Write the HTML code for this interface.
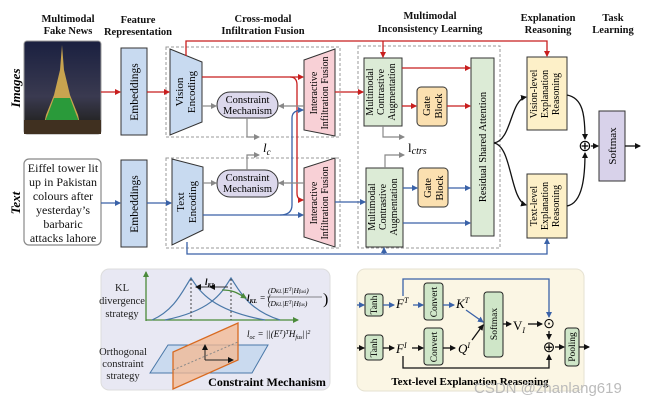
<!DOCTYPE html>
<html><head><meta charset="utf-8"><style>
html,body{margin:0;padding:0;background:#fff;}
svg{display:block;font-family:"Liberation Serif",serif;}
</style></head><body>
<svg width="655" height="406" viewBox="0 0 655 406" xmlns="http://www.w3.org/2000/svg">
<defs>
<marker id="ar" markerWidth="6" markerHeight="6" refX="5" refY="3" orient="auto" markerUnits="userSpaceOnUse"><path d="M0,0 L6,3 L0,6 z" fill="#c81e1e"/></marker>
<marker id="ab" markerWidth="6" markerHeight="6" refX="5" refY="3" orient="auto" markerUnits="userSpaceOnUse"><path d="M0,0 L6,3 L0,6 z" fill="#3a62a8"/></marker>
<marker id="ag" markerWidth="6" markerHeight="6" refX="5" refY="3" orient="auto" markerUnits="userSpaceOnUse"><path d="M0,0 L6,3 L0,6 z" fill="#888"/></marker>
<marker id="ak" markerWidth="6" markerHeight="6" refX="5" refY="3" orient="auto" markerUnits="userSpaceOnUse"><path d="M0,0 L6,3 L0,6 z" fill="#111"/></marker>
<marker id="agr" markerWidth="6" markerHeight="6" refX="5" refY="3" orient="auto" markerUnits="userSpaceOnUse"><path d="M0,0 L6,3 L0,6 z" fill="#4a8a3a"/></marker>
<linearGradient id="sky" x1="0" y1="0" x2="0" y2="1"><stop offset="0" stop-color="#1a2040"/><stop offset="0.6" stop-color="#3a3a50"/><stop offset="1" stop-color="#1a1a10"/></linearGradient>
</defs>

<g font-weight="bold" font-size="10.5" text-anchor="middle" fill="#111">
<text x="68" y="22">Multimodal</text><text x="68" y="34">Fake News</text>
<text x="138" y="23">Feature</text><text x="138" y="35">Representation</text>
<text x="263" y="22">Cross-modal</text><text x="263" y="34">Infiltration Fusion</text>
<text x="430" y="19">Multimodal</text><text x="430" y="32">Inconsistency Learning</text>
<text x="548" y="21">Explanation</text><text x="548" y="33">Reasoning</text>
<text x="613" y="21">Task</text><text x="613" y="33">Learning</text>
</g>
<text transform="translate(20,88) rotate(-90)" text-anchor="middle" font-weight="bold" font-style="italic" font-size="13">Images</text>
<text transform="translate(20,203) rotate(-90)" text-anchor="middle" font-weight="bold" font-style="italic" font-size="13">Text</text>

<rect x="24" y="41" width="77" height="93" rx="3" fill="url(#sky)" stroke="#999"/>
<path d="M62,45 L60,70 L54,95 L46,115 L44,124 L80,124 L78,115 L70,95 L64,70 z" fill="#d8b050" opacity="0.9"/>
<path d="M54,98 L70,98 L76,114 L80,124 L44,124 L48,114 z" fill="#2a9a3a"/>
<rect x="24" y="120" width="77" height="14" fill="#403020"/>

<rect x="24" y="159" width="77" height="86" rx="5" fill="#fff" stroke="#888" stroke-width="1.2"/>
<g font-size="12" text-anchor="middle" fill="#111">
<text x="63" y="172">Eiffel tower lit</text><text x="63" y="186">up in Pakistan</text>
<text x="63" y="200">colours after</text><text x="63" y="214">yesterday’s</text>
<text x="63" y="228">barbaric</text><text x="63" y="242">attacks lahore</text>
</g>

<rect x="121" y="48" width="26" height="87" fill="#c8daf0" stroke="#333"/>
<rect x="121" y="160" width="26" height="87" fill="#c8daf0" stroke="#333"/>
<text transform="translate(138,92) rotate(-90)" text-anchor="middle" font-size="11.5">Embeddings</text>
<text transform="translate(138,204) rotate(-90)" text-anchor="middle" font-size="11.5">Embeddings</text>

<g fill="none" stroke="#999" stroke-dasharray="3,2">
<rect x="166" y="47" width="174" height="90"/>
<rect x="166" y="158" width="174" height="90"/>
<rect x="358" y="46" width="142" height="202"/>
</g>

<path d="M170,49 L202,62 L202,122 L170,135 z" fill="#c8daf0" stroke="#333"/>
<path d="M172,159 L203,167 L203,230 L172,245 z" fill="#c8daf0" stroke="#333"/>
<g font-size="11" text-anchor="middle">
<text transform="translate(183,92) rotate(-90)">Vision</text><text transform="translate(195,92) rotate(-90)">Encoding</text>
<text transform="translate(184,202) rotate(-90)">Text</text><text transform="translate(196,202) rotate(-90)">Encoding</text>
</g>

<rect x="217" y="92" width="61" height="26" rx="13" fill="#dcd8ec" stroke="#333"/>
<rect x="217" y="170" width="61" height="27" rx="13" fill="#dcd8ec" stroke="#333"/>
<g font-size="10.5" text-anchor="middle">
<text x="247.5" y="103">Constraint</text><text x="247.5" y="114">Mechanism</text>
<text x="247.5" y="181">Constraint</text><text x="247.5" y="192">Mechanism</text>
</g>

<path d="M304,60 L335,49 L335,136 L304,130 z" fill="#f8d0d6" stroke="#333"/>
<path d="M304,168 L335,158 L335,247 L304,237 z" fill="#f8d0d6" stroke="#333"/>
<g font-size="10" text-anchor="middle">
<text transform="translate(317,93) rotate(-90)">Interactive</text><text transform="translate(328,93) rotate(-90)">Infiltration Fusion</text>
<text transform="translate(317,203) rotate(-90)">Interactive</text><text transform="translate(328,203) rotate(-90)">Infiltration Fusion</text>
</g>

<rect x="364" y="58" width="38" height="68" fill="#dcebd6" stroke="#333"/>
<rect x="366" y="168" width="37" height="79" fill="#dcebd6" stroke="#333"/>
<g font-size="10" text-anchor="middle">
<text transform="translate(373,92) rotate(-90)">Multimodal</text><text transform="translate(384,92) rotate(-90)">Contrastive</text><text transform="translate(395,92) rotate(-90)">Augmentation</text>
<text transform="translate(375,207) rotate(-90)">Multimodal</text><text transform="translate(386,207) rotate(-90)">Contrastive</text><text transform="translate(397,207) rotate(-90)">Augmentation</text>
</g>
<rect x="417" y="87" width="30" height="39" rx="4" fill="#fbe0b0" stroke="#333"/>
<rect x="418" y="168" width="30" height="39" rx="4" fill="#fbe0b0" stroke="#333"/>
<g font-size="10.5" text-anchor="middle">
<text transform="translate(430,106) rotate(-90)">Gate</text><text transform="translate(442,106) rotate(-90)">Block</text>
<text transform="translate(431,188) rotate(-90)">Gate</text><text transform="translate(443,188) rotate(-90)">Block</text>
</g>
<rect x="471" y="58" width="23" height="178" fill="#dcebd6" stroke="#333"/>
<text transform="translate(486,147) rotate(-90)" text-anchor="middle" font-size="10.5">Residual Shared Attention</text>

<rect x="527" y="57" width="40" height="73" fill="#fdf0c8" stroke="#333"/>
<rect x="527" y="174" width="40" height="64" fill="#fdf0c8" stroke="#333"/>
<g font-size="10" text-anchor="middle">
<text transform="translate(537,94) rotate(-90)">Vision-level</text><text transform="translate(548,94) rotate(-90)">Explanation</text><text transform="translate(559,94) rotate(-90)">Reasoning</text>
<text transform="translate(537,206) rotate(-90)">Text-level</text><text transform="translate(548,206) rotate(-90)">Explanation</text><text transform="translate(559,206) rotate(-90)">Reasoning</text>
</g>
<rect x="599" y="111" width="26" height="70" fill="#d8d2ea" stroke="#333"/>
<text transform="translate(616,146) rotate(-90)" text-anchor="middle" font-size="11">Softmax</text>
<text x="585" y="151" text-anchor="middle" font-size="16">⊕</text>

<g fill="none" stroke="#c81e1e" stroke-width="1.3">
<path d="M101,92 H120" marker-end="url(#ar)"/>
<path d="M147,92 H169" marker-end="url(#ar)"/>
<path d="M186,56 V41 H547 V56" marker-end="url(#ar)"/>
<path d="M383,41 V57" marker-end="url(#ar)"/>
<path d="M202,77 H303" marker-end="url(#ar)"/>
<path d="M290,77 Q297,77 297,85 V193 Q297,200 303,200" marker-end="url(#ar)"/>
<path d="M335,92 H363" marker-end="url(#ar)"/>
<path d="M402,68 H470" marker-end="url(#ar)"/>
<path d="M402,106 H416" marker-end="url(#ar)"/>
<path d="M447,106 H470" marker-end="url(#ar)"/>
</g>
<g fill="none" stroke="#3a62a8" stroke-width="1.3">
<path d="M101,203 H120" marker-end="url(#ab)"/>
<path d="M147,203 H171" marker-end="url(#ab)"/>
<path d="M203,215 H303" marker-end="url(#ab)"/>
<path d="M280,215 Q292,215 292,205 V118 Q292,110 303,110" marker-end="url(#ab)"/>
<path d="M335,202 H365" marker-end="url(#ab)"/>
<path d="M187,242 V254 H547 V239" marker-end="url(#ab)"/>
<path d="M384,254 V248" marker-end="url(#ab)"/>
<path d="M403,188 H417" marker-end="url(#ab)"/>
<path d="M448,188 H470" marker-end="url(#ab)"/>
<path d="M403,223 H470" marker-end="url(#ab)"/>
</g>
<g fill="none" stroke="#888" stroke-width="1.2">
<path d="M202,106 H216" marker-end="url(#ag)"/>
<path d="M203,183 H216" marker-end="url(#ag)"/>
<path d="M304,106 H279" marker-end="url(#ag)"/>
<path d="M304,183 H279" marker-end="url(#ag)"/>
<path d="M247,118 V137 H259" marker-end="url(#ag)"/>
<path d="M247,170 V155 H259" marker-end="url(#ag)"/>
<path d="M383,126 V137 H404" marker-end="url(#ag)"/>
<path d="M385,168 V155 H404" marker-end="url(#ag)"/>
</g>
<text x="263" y="152" font-style="italic" font-size="13">l<tspan font-size="9" dy="3">c</tspan></text>
<text x="408" y="152" font-size="13">l<tspan font-style="italic" font-size="10" dy="2">ctrs</tspan></text>
<g fill="none" stroke="#111" stroke-width="1.3">
<path d="M494,143 C512,140 510,100 526,97" marker-end="url(#ak)"/>
<path d="M494,143 C512,146 510,200 526,205" marker-end="url(#ak)"/>
<path d="M567,95 C583,98 585,115 585,139" marker-end="url(#ak)"/>
<path d="M567,206 C583,203 585,175 585,153" marker-end="url(#ak)"/>
<path d="M591,146 H598" marker-end="url(#ak)"/>
<path d="M625,146 H640" marker-end="url(#ak)"/>
</g>

<rect x="101" y="269" width="229" height="121" rx="8" fill="#e8e8f3" stroke="#ddd"/>
<g fill="none" stroke="#4a8a3a" stroke-width="1.3">
<path d="M146,321 V272" marker-end="url(#agr)"/>
<path d="M146,320 H298" marker-end="url(#agr)"/>
</g>
<g fill="none" stroke="#4a78a8" stroke-width="1.2">
<path d="M152,320 C175,310 183,290 191,278 C199,290 210,310 265,320"/>
<path d="M165,320 C215,310 223,290 231,278 C239,290 248,310 280,320"/>
</g>
<g stroke="#444" stroke-dasharray="2,2"><path d="M191,279 V320"/><path d="M231,279 V320"/></g>
<path d="M228,287 L210,287" stroke="#333" marker-end="url(#ak)"/>
<path d="M210,287 L196,287" stroke="#333" marker-end="url(#ak)"/>
<path d="M222,290 C232,290 236,292 246,298" stroke="#4a8a3a" fill="none" stroke-width="1.3" marker-end="url(#agr)"/>
<text x="205" y="285" font-size="9" font-style="italic" font-weight="bold">l<tspan font-size="6" dy="2">KL</tspan></text>
<g font-size="10.5" text-anchor="middle" fill="#222">
<text x="122" y="291">KL</text><text x="122" y="304">divergence</text><text x="122" y="317">strategy</text>
<text x="123" y="355">Orthogonal</text><text x="123" y="367">constraint</text><text x="123" y="379">strategy</text>
</g>
<text x="247" y="301" font-size="9" font-style="italic" font-weight="bold">l<tspan font-size="6" dy="2">KL</tspan><tspan dy="-2" font-weight="normal"> = (</tspan></text>
<text x="268" y="293" font-size="7.5" font-style="italic">(D<tspan font-size="5">KL</tspan>|E<tspan font-size="5" dy="-2">T</tspan><tspan dy="2">|H</tspan><tspan font-size="5">fusi</tspan>)</text>
<line x1="267" y1="297" x2="322" y2="297" stroke="#222" stroke-width="0.6"/>
<text x="268" y="306" font-size="7.5" font-style="italic">(D<tspan font-size="5">KL</tspan>|E<tspan font-size="5" dy="-2">T</tspan><tspan dy="2">|H</tspan><tspan font-size="5">fus</tspan>)</text>
<text x="323" y="304" font-size="16">)</text>
<path d="M150,373 L168,345 L268,345 L252,373 z" fill="#c6d8ee" stroke="#4a78a8" fill-opacity="0.9"/>
<path d="M173,389 L173,352 L238,323 L238,360 z" fill="#f4b890" fill-opacity="0.75" stroke="#d86a20" stroke-width="1.3"/>
<path d="M173,370 L238,342" stroke="#888" stroke-dasharray="2,2"/>
<path d="M205,360 V345" stroke="#222" marker-end="url(#ak)"/>
<path d="M205,360 H233" stroke="#222" marker-end="url(#ak)"/>
<text x="247" y="337" font-size="9" font-style="italic">l<tspan font-size="6" dy="2">oc</tspan><tspan dy="-2"> = ||(E</tspan><tspan font-size="6" dy="-3">T</tspan><tspan dy="3">)</tspan><tspan font-size="6" dy="-3">T</tspan><tspan dy="3">H</tspan><tspan font-size="6" dy="2">fus</tspan><tspan dy="-2">||</tspan><tspan font-size="6" dy="-3">2</tspan></text>
<text x="267" y="386" text-anchor="middle" font-weight="bold" font-size="12">Constraint Mechanism</text>

<rect x="357" y="269" width="227" height="122" rx="8" fill="#fbf6e4" stroke="#e6e2d2"/>
<g fill="#cfe6c8" stroke="#222">
<rect x="365" y="294" width="18" height="22" rx="3"/>
<rect x="365" y="335" width="18" height="25" rx="3"/>
<rect x="424" y="283" width="19" height="37" rx="3"/>
<rect x="424" y="328" width="19" height="37" rx="3"/>
<rect x="484" y="292" width="19" height="65" rx="3"/>
<rect x="565" y="328" width="14" height="38" rx="3"/>
</g>
<g font-size="9.5" text-anchor="middle">
<text transform="translate(377,305) rotate(-90)">Tanh</text>
<text transform="translate(377,348) rotate(-90)">Tanh</text>
<text transform="translate(437,302) rotate(-90)">Convert</text>
<text transform="translate(437,347) rotate(-90)">Convert</text>
<text transform="translate(497,324) rotate(-90)">Softmax</text>
<text transform="translate(575,347) rotate(-90)">Pooling</text>
</g>
<g font-size="13" font-style="italic">
<text x="396" y="308">F<tspan font-size="8" dy="-5">T</tspan></text>
<text x="456" y="308">K<tspan font-size="8" dy="-5">T</tspan></text>
<text x="396" y="353">F<tspan font-size="8" dy="-5">I</tspan></text>
<text x="458" y="353">Q<tspan font-size="8" dy="-5">I</tspan></text>
</g>
<text x="513" y="330" font-size="13">V<tspan font-size="8" font-style="italic" dy="3">I</tspan></text>
<text x="549" y="328" text-anchor="middle" font-size="14">⊙</text>
<text x="549" y="352" text-anchor="middle" font-size="15">⊕</text>
<g fill="none" stroke="#3a62a8" stroke-width="1.3">
<path d="M357,305 H364" marker-end="url(#ab)"/>
<path d="M383,305 H394" marker-end="url(#ab)"/>
<path d="M413,305 H423" marker-end="url(#ab)"/>
<path d="M443,305 H454" marker-end="url(#ab)"/>
<path d="M403,296 V279 H549 V317" marker-end="url(#ab)"/>
<path d="M466,310 L483,322" marker-end="url(#ab)"/>
</g>
<g fill="none" stroke="#111" stroke-width="1.3">
<path d="M357,348 H364" marker-end="url(#ak)"/>
<path d="M383,348 H394" marker-end="url(#ak)"/>
<path d="M412,348 H423" marker-end="url(#ak)"/>
<path d="M443,348 H455" marker-end="url(#ak)"/>
<path d="M472,340 L483,325" marker-end="url(#ak)"/>
<path d="M503,324 H511" marker-end="url(#ak)"/>
<path d="M528,324 H542" marker-end="url(#ak)"/>
<path d="M549,331 V339" marker-end="url(#ak)"/>
<path d="M403,356 V368 H549 V355" marker-end="url(#ak)"/>
<path d="M555,347 H564" marker-end="url(#ak)"/>
<path d="M579,347 H589" marker-end="url(#ak)"/>
</g>
<text x="470" y="385" text-anchor="middle" font-weight="bold" font-size="11">Text-level Explanation Reasoning</text>
<text x="474" y="393" font-family="Liberation Sans, sans-serif" font-size="15" fill="#bbb">CSDN @zhanlang619</text>
</svg>
</body></html>
